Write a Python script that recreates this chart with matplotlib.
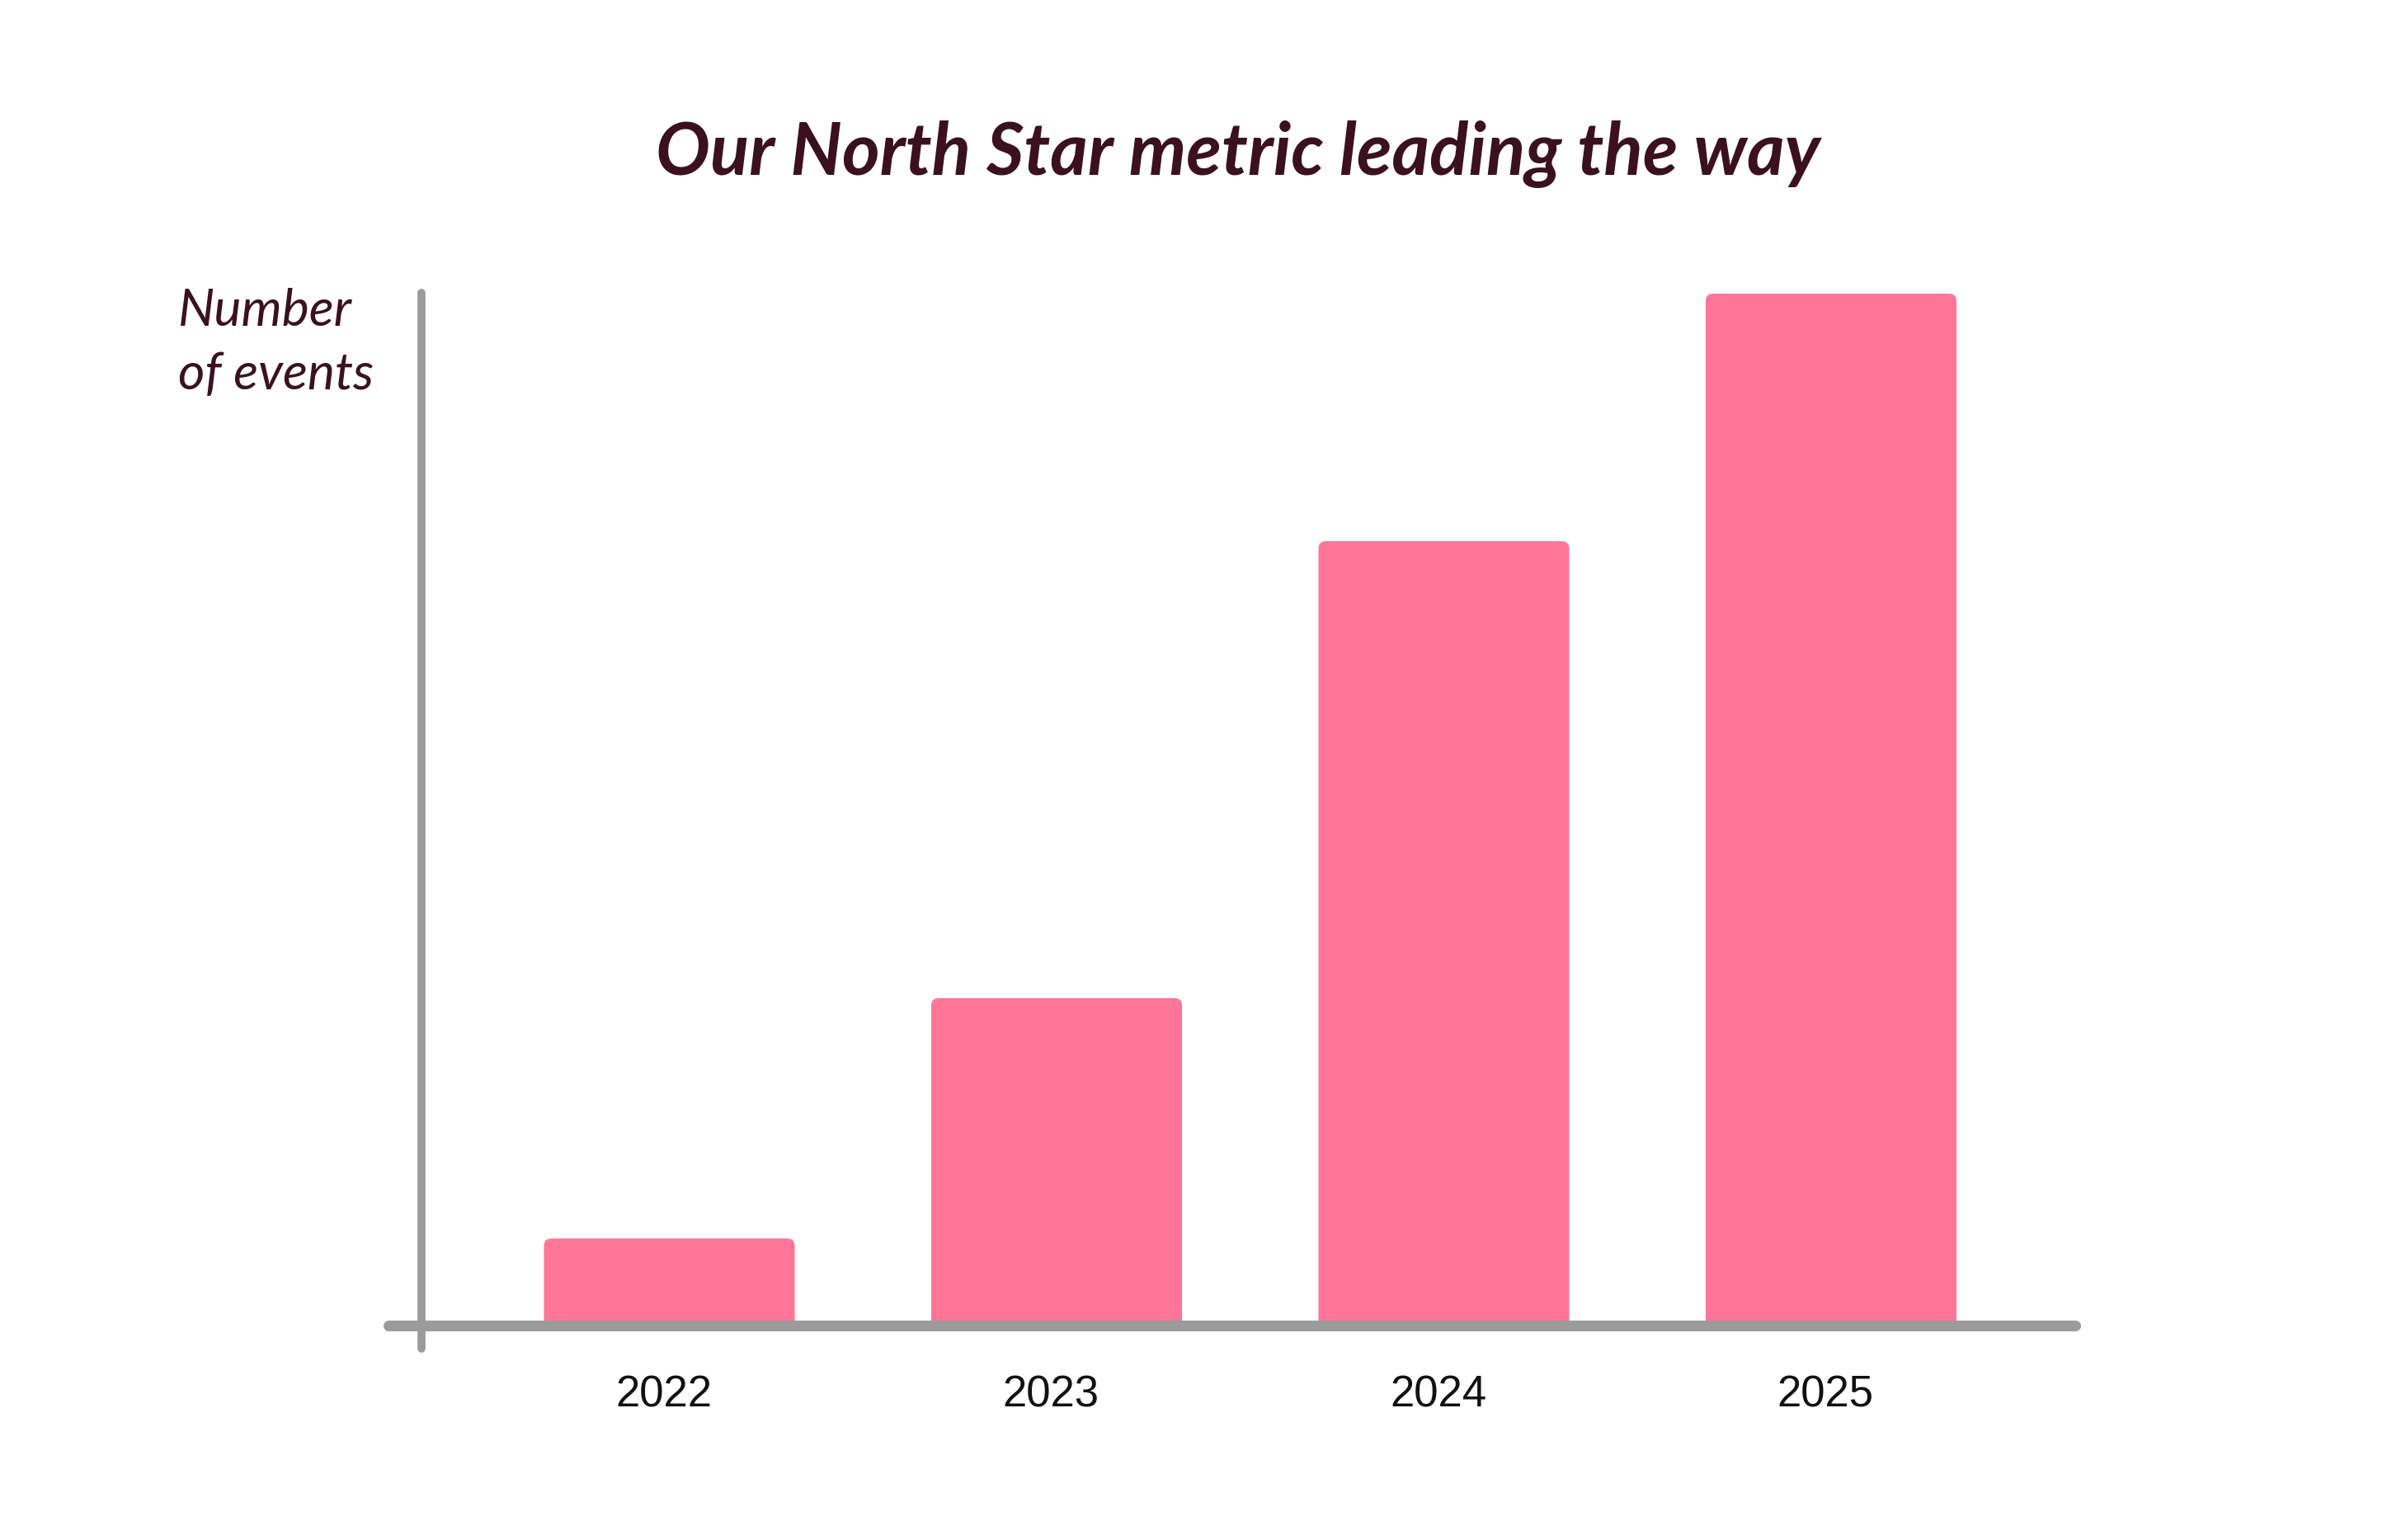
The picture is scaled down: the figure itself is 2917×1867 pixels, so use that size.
import matplotlib
matplotlib.use("Agg")
import matplotlib.pyplot as plt
from matplotlib.patches import FancyBboxPatch

# data
years = ["2022", "2023", "2024", "2025"]
events = [8.4, 31.7, 76.0, 100.0]

W, H = 2917, 1867
DPI = 100
bar_color = "#FF7597"
axis_color = "#9B9B9B"
text_color = "#3B111E"

fig = plt.figure(figsize=(W / DPI, H / DPI), dpi=DPI)
fig.patch.set_facecolor("white")

# axes box in pixels (image coords)
left_px, right_px, top_px, bottom_px = 465, 2522, 350, 1640
ax = fig.add_axes([left_px / W, 1 - bottom_px / H,
                   (right_px - left_px) / W, (bottom_px - top_px) / H])

xs = list(range(len(years)))
px_per_x = 469.5
px_per_y = 12.505
x0 = -(811.5 - left_px) / px_per_x
x1 = x0 + (right_px - left_px) / px_per_x
y0 = -(bottom_px - 1606.5) / px_per_y
y1 = y0 + (bottom_px - top_px) / px_per_y
ax.set_xlim(x0, x1)
ax.set_ylim(y0, y1)

bar_w = 304 / px_per_x
r = 9 / px_per_x
for x, v in zip(xs, events):
    p = FancyBboxPatch((x - bar_w / 2, -0.6), bar_w, v + 0.6,
                       boxstyle=f"round,pad=0,rounding_size={r}",
                       mutation_aspect=px_per_x / px_per_y,
                       facecolor=bar_color, edgecolor="none", zorder=2)
    ax.add_patch(p)

for s in ["top", "right"]:
    ax.spines[s].set_visible(False)
ax.spines["left"].set_position(("data", x0 + (511 - left_px) / px_per_x))
ax.spines["bottom"].set_position(("data", 0))
ax.spines["left"].set_bounds(y0 + 0.4, y1 - 0.4)
ax.spines["bottom"].set_bounds(x0 + 0.012, x1 - 0.012)
ax.spines["left"].set_linewidth(7.0)
ax.spines["bottom"].set_linewidth(9.4)
for s in ["left", "bottom"]:
    ax.spines[s].set_color(axis_color)
    ax.spines[s].set_capstyle("round")
    ax.spines[s].set_zorder(3)

ax.set_yticks([])
ax.set_xticks([x - 0.015 for x in xs])
ax.set_xticklabels(years, fontsize=38, family="Liberation Sans", color="#111111")
ax.tick_params(axis="x", length=0, pad=43)
ax.patch.set_visible(False)

fig.text(1501 / W, 1 - 212 / H, "Our North Star metric leading the way",
         ha="center", va="baseline", fontsize=63, fontweight="bold",
         fontstyle="italic", family="Lato", color=text_color)

fig.text(216 / W, 1 - 395 / H, "Number", ha="left", va="baseline",
         fontsize=45, fontstyle="italic", fontweight="normal",
         family="Lato", color=text_color)
fig.text(216 / W, 1 - 472 / H, "of events", ha="left", va="baseline",
         fontsize=45, fontstyle="italic", fontweight="normal",
         family="Lato", color=text_color)

fig.savefig("out.png", dpi=DPI, facecolor="white")
